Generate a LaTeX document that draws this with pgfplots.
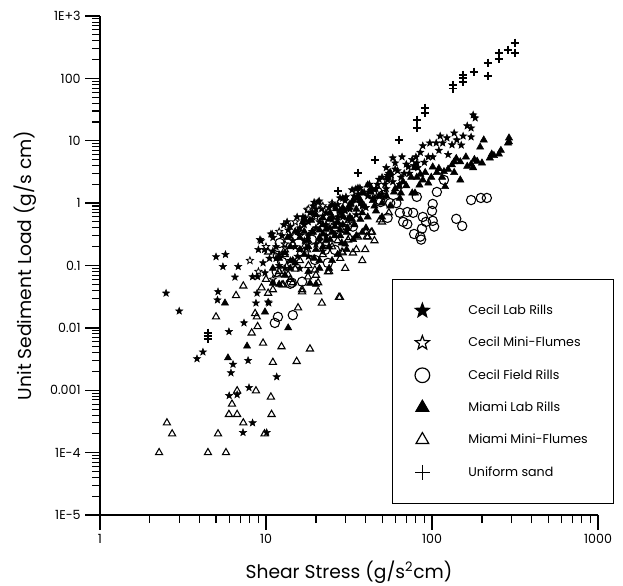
\documentclass[border=0pt]{standalone}
\usepackage{fontspec}
\setmainfont{Poppins}
\usepackage{pgfplots}
\pgfplotsset{compat=1.18}

\pgfdeclareplotmark{fstar}{%
  \pgfpathmoveto{\pgfpointpolar{90}{\pgfplotmarksize}}%
  \pgfpathlineto{\pgfpointpolar{126}{0.42\pgfplotmarksize}}%
  \pgfpathlineto{\pgfpointpolar{162}{\pgfplotmarksize}}%
  \pgfpathlineto{\pgfpointpolar{198}{0.42\pgfplotmarksize}}%
  \pgfpathlineto{\pgfpointpolar{234}{\pgfplotmarksize}}%
  \pgfpathlineto{\pgfpointpolar{270}{0.42\pgfplotmarksize}}%
  \pgfpathlineto{\pgfpointpolar{306}{\pgfplotmarksize}}%
  \pgfpathlineto{\pgfpointpolar{342}{0.42\pgfplotmarksize}}%
  \pgfpathlineto{\pgfpointpolar{18}{\pgfplotmarksize}}%
  \pgfpathlineto{\pgfpointpolar{54}{0.42\pgfplotmarksize}}%
  \pgfpathclose\pgfusepathqfillstroke}

\begin{document}
\begin{tikzpicture}
\begin{axis}[
  at={(0,0)}, anchor=south west,
  scale only axis, width=373.5pt, height=374.25pt,
  xmode=log, ymode=log, xmin=1, xmax=1000, ymin=1e-5, ymax=1000,
  axis x line*=bottom, axis y line*=left,
  axis line style={line width=1.1pt,-},
  xtick align=outside, ytick align=outside,
  major tick length=11pt, minor tick length=6pt,
  tick style={black,line width=1pt},
  every minor tick/.append style={black,line width=0.8pt},
  xtick={1,10,100,1000}, xticklabels={1,10,100,1000},
  minor xtick={2,3,4,5,6,7,8,9,20,30,40,50,60,70,80,90,200,300,400,500,600,700,800,900},
  ytick={1e-5,1e-4,0.001,0.01,0.1,1,10,100,1000},
  yticklabels={1E-5,1E-4,0.001,0.01,0.1,1,10,100,1E+3},
  minor ytick={2e-5,3e-5,4e-5,5e-5,6e-5,7e-5,8e-5,9e-5,
    2e-4,3e-4,4e-4,5e-4,6e-4,7e-4,8e-4,9e-4,
    0.002,0.003,0.004,0.005,0.006,0.007,0.008,0.009,
    0.02,0.03,0.04,0.05,0.06,0.07,0.08,0.09,
    0.2,0.3,0.4,0.5,0.6,0.7,0.8,0.9,
    2,3,4,5,6,7,8,9,20,30,40,50,60,70,80,90,
    200,300,400,500,600,700,800,900},
  tick label style={font=\fontsize{9.5}{10}\selectfont},
  /pgf/number format/assume math mode=true,
  xlabel={Shear Stress (g/s\textsuperscript{2}cm)},
  ylabel={Unit Sediment Load (g/s cm)},
  label style={font=\fontsize{14}{16}\selectfont},
  xlabel style={yshift=-6pt},
  ylabel style={yshift=3pt},
  legend style={at={(0.586,0.473)}, anchor=north west, draw=black, line width=0.8pt,
    fill=white, inner xsep=17pt, inner ysep=17pt, row sep=11.5pt, column sep=27pt,
    font=\fontsize{9.5}{11}\selectfont, cells={anchor=west}},
  legend image post style={mark size=5.5pt, line width=0.9pt},
  legend cell align=left,
]
% Cecil Lab Rills
\addplot[only marks, mark=fstar, mark size=2.8pt, black, fill=black, line width=0.4pt] table[row sep=\\] {
x y\\
2.50 0.036\\ 3.0 0.0186\\ 3.84 0.0032\\ 4.17 0.0041\\ 5.14 0.038\\ 5.1 0.028\\
5.98 0.0087\\ 6.33 0.0026\\ 6.15 0.0019\\ 6.0 0.00082\\ 6.7 0.00085\\ 7.37 0.012\\
7.8 0.0030\\ 7.9 0.0011\\ 7.27 0.00021\\ 8.3 0.00030\\ 8.83 0.036\\ 8.7 0.025\\
10.4 0.025\\ 11.6 0.00164\\ 10.1 0.00021\\ 5.0 0.138\\ 5.7 0.15\\ 5.5 0.096\\
6.8 0.096\\ 6.5 0.065\\ 8.3 0.066\\ 8.9 0.066\\ 10.9 0.32\\ 9.2 0.26\\ 9.0 0.18\\
9.6 0.11\\ 9.33 0.248\\ 10.7 0.32\\ 13.4 0.50\\ 13.6 0.37\\ 19.5 1.03\\ 20.9 1.08\\
21.7 0.81\\ 18.4 0.70\\ 15.4 0.60\\ 17.2 0.58\\ 33.0 1.63\\ 35.8 1.75\\ 9.86 0.076\\
10.3 0.026\\ 177 25.9\\ 182 23.2\\ 163 17.3\\ 172 16.0\\ 136 13.3\\ 154 11.9\\
172 11.5\\ 112 11.9\\ 123 11.1\\ 141 10.3\\ 106 9.2\\ 116 9.2\\ 132 8.6\\ 88 8.3\\
97 9.2\\ 95 5.5\\ 101 5.5\\ 80 5.5\\ 66 5.5\\ 58 5.3\\ 60 4.4\\ 53 3.7\\ 54 2.8\\
54 2.35\\ 81 4.4\\ 82 3.7\\ 34.8 1.69\\ 36.8 1.75\\ 30.3 1.26\\ 27.9 1.21\\
20.6 1.04\\ 19.2 0.90\\ 17.7 0.78\\ 21.7 0.84\\ 16.7 0.60\\
11.5 0.20\\ 12.5 0.30\\ 13 0.16\\ 14 0.42\\ 14.5 0.25\\ 15.5 0.35\\ 16 0.18\\
17 0.45\\ 18 0.30\\ 19 0.55\\ 20 0.40\\ 21 0.25\\ 22 0.62\\ 23 0.45\\ 24 0.85\\
25 0.55\\ 26 0.32\\ 27 0.95\\ 28 0.70\\ 30 1.1\\ 31 0.55\\ 32 0.80\\ 34 1.3\\
35 0.65\\ 37 1.0\\ 39 1.5\\ 40 0.85\\ 42 2.0\\ 44 1.2\\ 46 1.7\\ 48 2.4\\ 50 1.4\\
52 2.0\\ 55 3.0\\ 58 2.2\\ 62 3.3\\ 65 2.6\\ 70 4.2\\ 73 3.0\\ 76 5.0\\ 85 6.5\\
90 4.5\\ 110 7.0\\ 125 6.0\\ 150 8.5\\ 14 0.12\\ 16 0.09\\ 18 0.14\\ 22 0.17\\
12 0.10\\ 10.5 0.13\\ 11 0.28\\ 9.8 0.18\\
12 0.15\\ 13 0.22\\ 14 0.3\\ 15 0.2\\ 16 0.4\\ 17 0.25\\ 18 0.5\\ 19 0.35\\
20 0.8\\ 21 0.5\\ 23 0.7\\ 24 0.4\\ 26 0.9\\ 27 0.6\\ 29 1.2\\ 30 0.75\\ 33 1.0\\
36 1.4\\ 38 0.9\\ 41 1.3\\ 43 1.6\\ 47 2.0\\ 50 2.6\\ 53 1.7\\ 57 2.8\\ 60 3.5\\
64 2.0\\ 68 3.0\\ 72 3.8\\ 78 4.0\\ 11.5 0.13\\ 13 0.09\\ 15.5 0.14\\ 17.5 0.19\\
20 0.22\\ 23 0.3\\ 26 0.45\\ 29 0.6\\ 11 0.17\\ 12.8 0.45\\
};
\addlegendentry{Cecil Lab Rills}
% Cecil Mini-Flumes
\addplot[only marks, mark=fstar, mark size=2.8pt, black, fill=white, line width=0.6pt] table[row sep=\\] {
x y\\
8 0.12\\ 10 0.2\\ 12 0.35\\ 15 0.5\\ 18 0.8\\ 20 0.6\\ 25 1.0\\ 13 0.22\\ 16 0.3\\
22 0.9\\ 9 0.08\\ 11 0.06\\
};
\addlegendentry{Cecil Mini-Flumes}
% Cecil Field Rills
\addplot[only marks, mark=o, mark size=3.5pt, black, fill=white, line width=0.8pt] table[row sep=\\] {
x y\\
172 1.12\\ 197 1.21\\ 214 1.21\\ 140 0.56\\ 152 0.43\\ 100 0.75\\ 101 0.97\\
101 0.52\\ 103 0.42\\ 87 0.39\\ 85 0.29\\ 86 0.26\\ 78 0.32\\ 88 0.60\\ 92 0.50\\
77 0.70\\ 71 0.72\\ 64 0.70\\ 67 0.50\\ 71 0.46\\ 61 1.0\\ 56 1.0\\ 54 0.58\\
49 1.04\\ 51 1.35\\ 81 1.26\\ 107 1.51\\ 118 2.35\\ 33.4 0.42\\ 29.1 0.40\\
43.5 1.46\\ 11.8 0.143\\ 12.5 0.114\\ 11.6 0.079\\ 14.3 0.053\\ 16.5 0.055\\
19.7 0.123\\ 22.7 0.178\\ 26 0.178\\ 30.8 0.42\\ 26 0.42\\ 18.9 0.26\\
16.7 0.31\\ 44 1.35\\ 48.6 1.12\\ 47 1.51\\ 23.6 0.11\\ 11.3 0.012\\ 11.8 0.015\\
14.5 0.016\\ 14 0.051\\ 12.1 0.23\\ 14.3 0.11\\
};
\addlegendentry{Cecil Field Rills}
% Miami Lab Rills
\addplot[only marks, mark=triangle*, mark size=3.1pt, black, fill=black, line width=0.4pt] table[row sep=\\] {
x y\\
291 11.1\\ 291 9.6\\ 287 9.2\\ 253 6.1\\ 236 5.8\\ 223 5.3\\ 229 6.1\\ 205 10.3\\
195 7.9\\ 200 4.4\\ 187 4.7\\ 172 4.2\\ 177 3.7\\ 163 3.9\\ 148 4.6\\ 136 4.6\\
132 4.1\\ 136 3.1\\ 148 2.35\\ 118 3.2\\ 115 2.6\\ 120 1.84\\ 107 3.1\\ 101 3.8\\
99 2.6\\ 91 3.1\\ 88 2.35\\ 79 3.7\\ 81 2.6\\ 84 1.95\\ 79 1.45\\ 67 2.2\\ 65 1.45\\
63 1.84\\ 76 1.45\\ 59 1.5\\ 56 3.1\\ 54 2.6\\ 41 1.95\\ 43 1.75\\ 38 1.45\\
37 1.12\\ 33.5 1.12\\ 31.7 0.86\\ 29 0.84\\ 25 0.93\\ 26.4 0.81\\ 24.3 0.70\\
22 0.58\\ 20 0.65\\ 18.4 0.53\\ 16.7 0.50\\ 21 0.37\\ 19.2 0.34\\ 25 0.34\\
28 0.37\\ 30.6 0.34\\ 24.3 0.26\\ 28.6 0.23\\ 30.6 0.18\\ 33.5 0.26\\ 38 0.34\\
5.66 0.025\\ 7.69 0.0051\\ 5.9 0.0033\\ 11.0 0.052\\ 9.86 0.018\\ 13.6 0.010\\
18.4 0.052\\ 11 0.09\\ 12 0.13\\ 13 0.07\\ 14 0.2\\ 15 0.11\\ 16 0.28\\ 17 0.15\\
18 0.08\\ 19 0.35\\ 20 0.18\\ 21 0.12\\ 22 0.45\\ 23 0.25\\ 24 0.09\\ 25 0.6\\
26 0.3\\ 27 0.15\\ 28 0.75\\ 29 0.45\\ 30 0.22\\ 32 0.95\\ 33 0.55\\ 35 0.3\\
36 1.2\\ 38 0.7\\ 40 0.4\\ 42 1.5\\ 45 0.9\\ 48 1.3\\ 50 0.6\\ 15 0.35\\
13.5 0.28\\ 17 0.55\\ 19 0.7\\ 12 0.05\\ 20 0.05\\ 25 0.12\\ 18 0.25\\ 22 0.32\\
24 0.2\\
13 0.16\\ 14.5 0.12\\ 16 0.18\\ 17 0.35\\ 18 0.2\\ 19.5 0.13\\ 21 0.28\\ 22 0.2\\
23 0.38\\ 24 0.55\\ 26 0.42\\ 27 0.5\\ 28 0.3\\ 29 0.62\\ 31 0.4\\ 32 0.6\\
34 0.45\\ 35 0.8\\ 37 0.55\\ 39 0.9\\ 41 0.6\\ 44 1.1\\ 46 0.75\\ 50 1.0\\
53 1.3\\ 56 0.9\\ 60 1.7\\ 64 1.2\\ 70 1.9\\ 75 2.6\\ 85 2.9\\ 95 2.1\\ 110 3.6\\
125 3.5\\ 140 5.2\\ 160 5.5\\ 180 5.0\\ 260 7.0\\ 14 0.09\\ 21 0.09\\
};
\addlegendentry{Miami Lab Rills}
% Miami Mini-Flumes
\addplot[only marks, mark=triangle, mark size=3.1pt, black, fill=white, line width=0.8pt] table[row sep=\\] {
x y\\
2.27 0.0001\\ 2.53 0.0003\\ 2.72 0.0002\\ 4.47 0.0001\\ 5.74 0.0001\\ 5.14 0.0002\\
5.98 0.00041\\ 6.7 0.00041\\ 6.24 0.0006\\ 6.7 0.00098\\ 8.7 0.00098\\ 7.3 0.0003\\
10.7 0.00078\\ 10.8 0.00041\\ 9.8 0.0002\\ 5.0 0.015\\ 6.6 0.033\\ 7.3 0.047\\
8.8 0.015\\ 8.9 0.0105\\ 8.2 0.0083\\ 9.6 0.0057\\ 11 0.0028\\ 12.4 0.0050\\
15.3 0.0029\\ 18.4 0.0046\\ 9.4 0.044\\ 10.3 0.036\\ 15.6 0.021\\ 23.6 0.079\\
20.6 0.038\\ 21.7 0.025\\ 27.9 0.031\\ 8.6 0.017\\ 12.7 0.049\\ 16.5 0.038\\
39.6 0.18\\ 27.5 0.031\\ 43 0.34\\ 40.5 0.29\\ 29 0.16\\ 33.4 0.159\\ 31.2 0.257\\
35.8 0.287\\ 41.1 0.287\\ 43.5 0.345\\ 48.6 0.54\\ 28.7 0.165\\ 19.7 0.085\\
17.7 0.178\\ 10.3 0.165\\ 13.0 0.178\\ 15.0 0.088\\ 13.6 0.071\\ 11.8 0.071\\
17.9 0.066\\ 20.6 0.053\\ 14.5 0.053\\ 12.5 0.049\\ 11.0 0.041\\ 16.5 0.041\\
12 0.08\\ 14 0.06\\ 16 0.12\\ 18 0.1\\ 20 0.07\\ 22 0.15\\ 25 0.2\\ 28 0.13\\
30 0.09\\ 32 0.28\\ 35 0.18\\ 38 0.12\\ 40 0.35\\ 10 0.06\\ 13 0.15\\ 17 0.2\\
24 0.08\\ 27 0.25\\ 45 0.25\\ 50 0.5\\ 55 0.7\\
};
\addlegendentry{Miami Mini-Flumes}
% Uniform sand
\addplot[only marks, mark=+, mark size=3.2pt, black, line width=1pt] table[row sep=\\] {
x y\\
316 369\\ 316 255\\ 287 285\\ 253 255\\ 253 205\\ 217 177\\ 217 109\\ 179 127\\
154 113\\ 154 101\\ 154 87\\ 134 78\\ 134 68\\ 90.8 33.6\\ 90.8 27.9\\ 81.3 21.5\\
81.3 16.0\\ 63.3 10.3\\ 45.4 4.92\\ 35.8 3.05\\ 27.2 1.57\\ 4.47 0.0083\\
4.47 0.0074\\ 4.47 0.0066\\
};
\addlegendentry{Uniform sand}
\end{axis}
\pgfresetboundingbox
\path[use as bounding box] (-75pt,-52.5pt) rectangle (392.25pt,386.25pt);
\end{tikzpicture}
\end{document}
